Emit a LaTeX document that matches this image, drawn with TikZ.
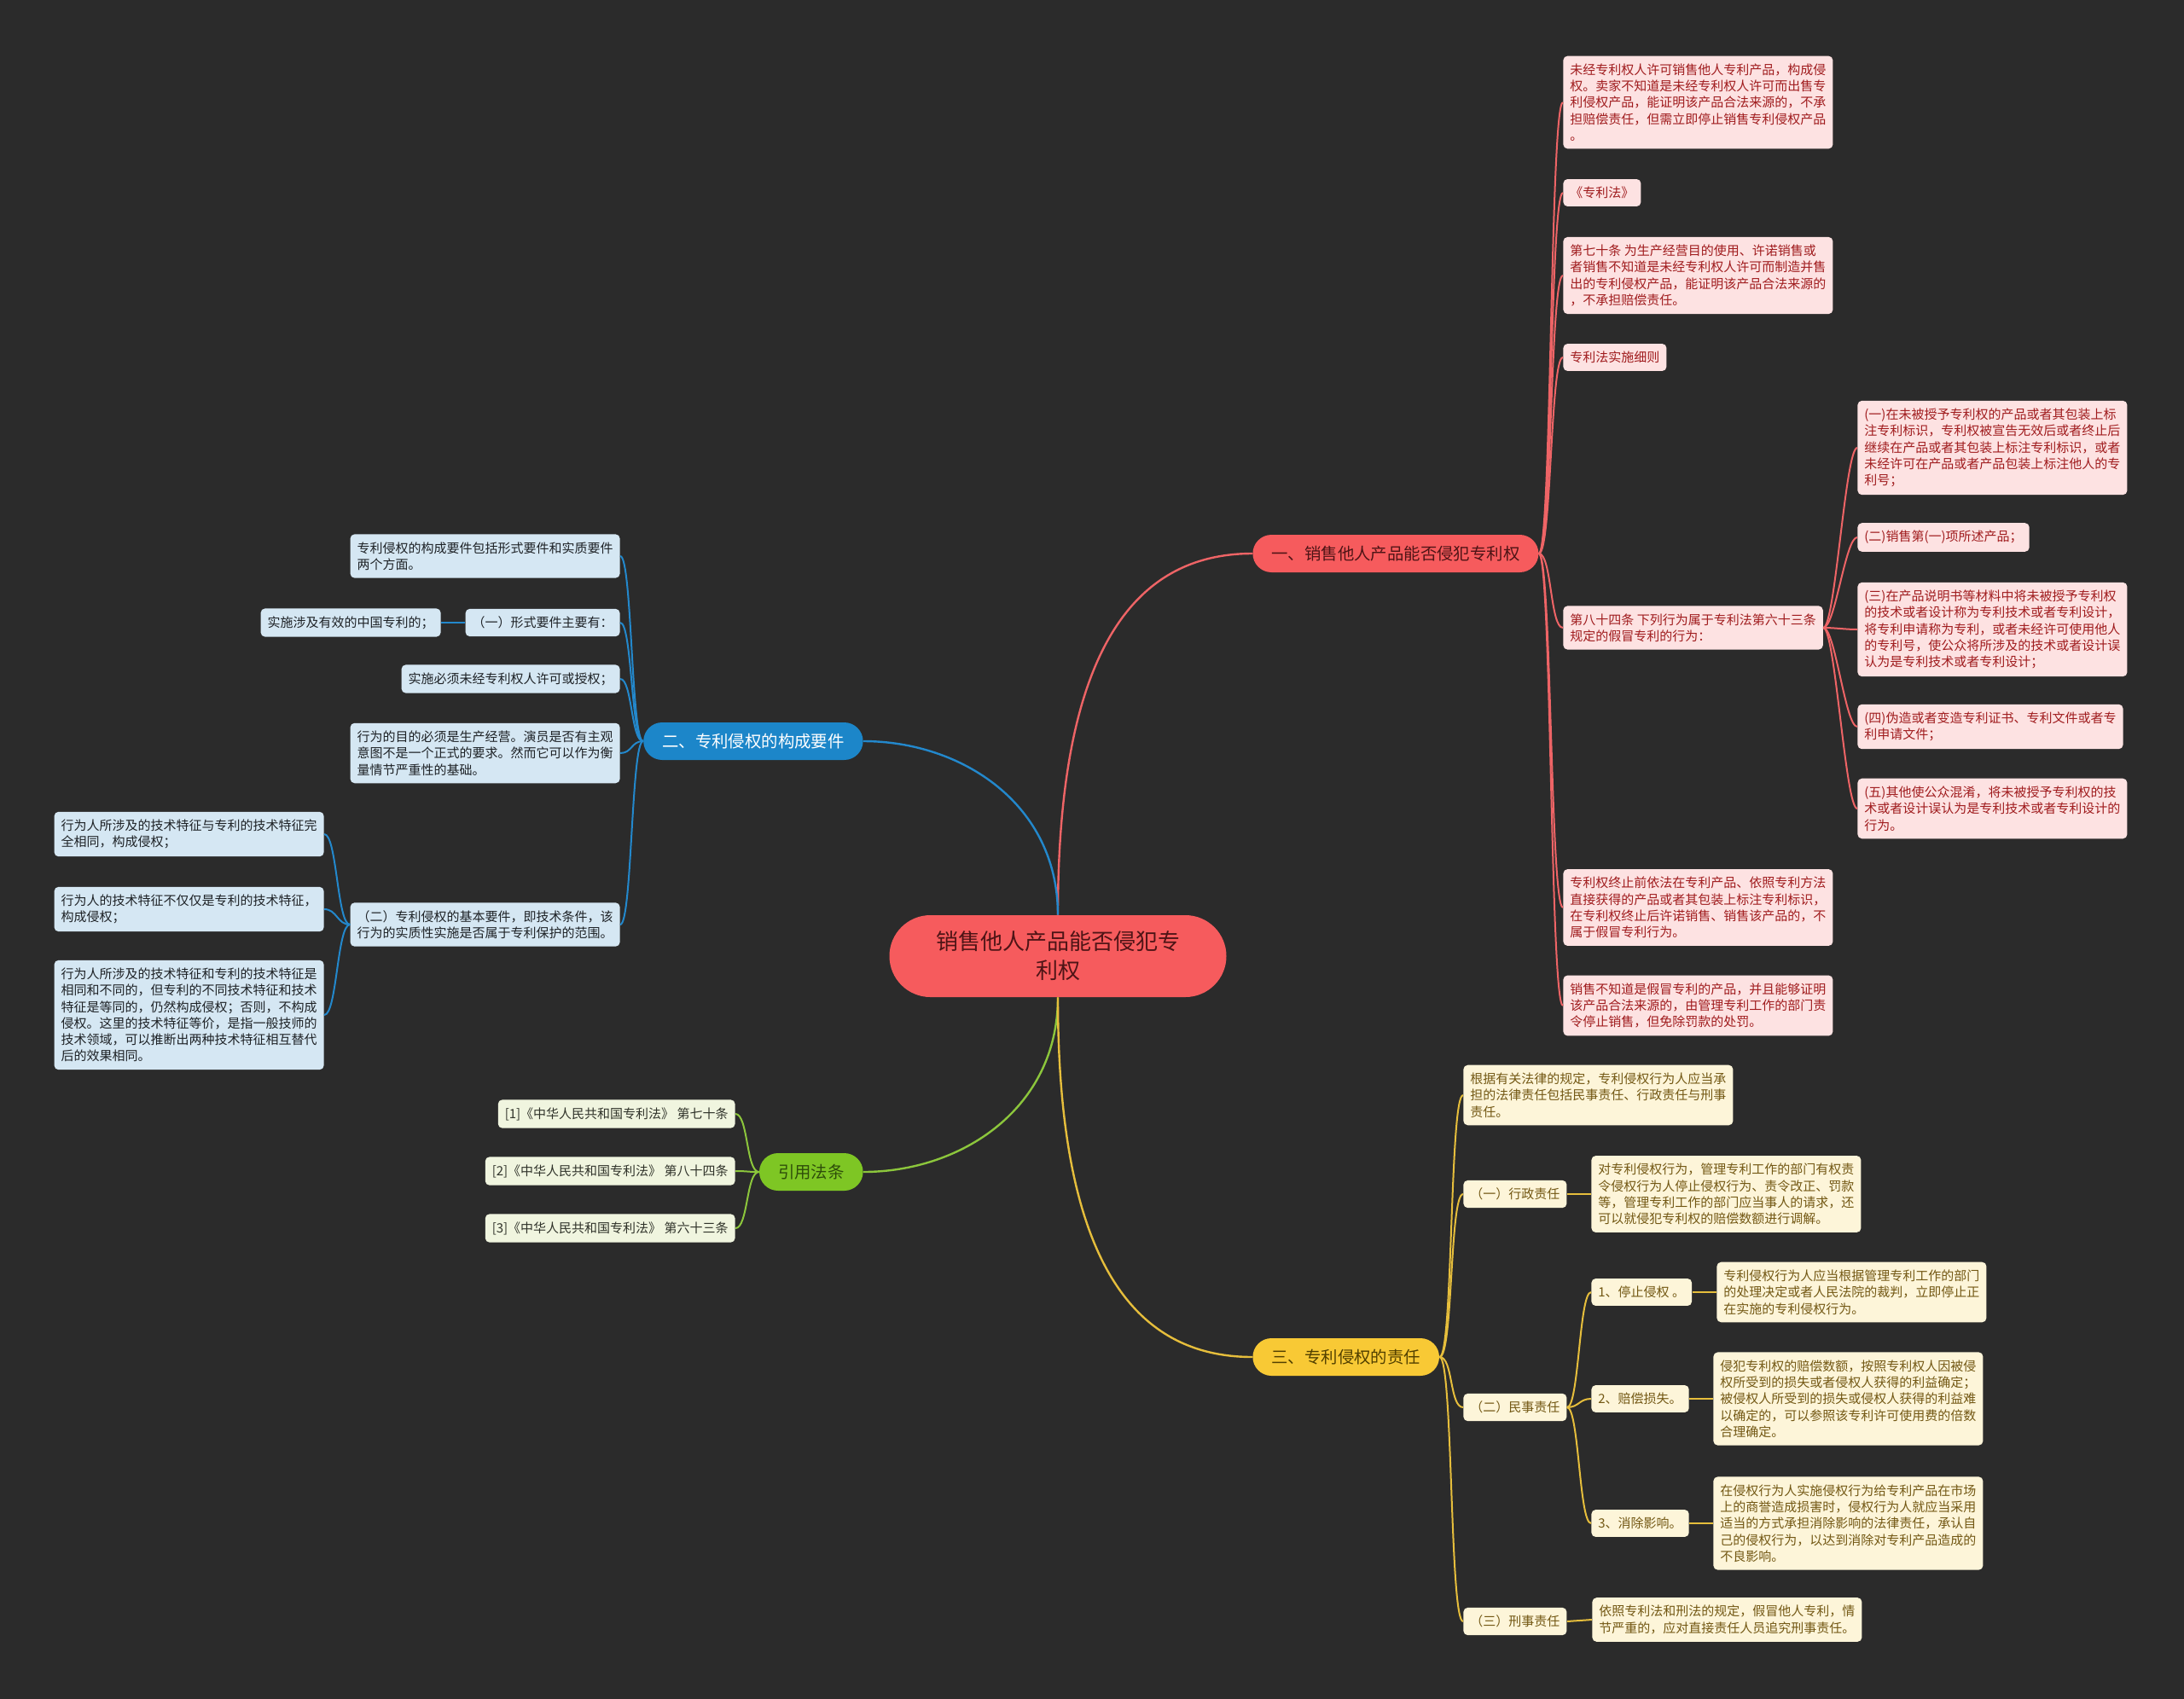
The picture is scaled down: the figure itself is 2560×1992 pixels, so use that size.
\documentclass[tikz,border=0pt]{standalone}
\usepackage{fontspec}
\setmainfont{Noto Sans CJK SC}

\definecolor{bgcol}{HTML}{2B2B2B}
\definecolor{redfill}{HTML}{F65B5D}
\definecolor{redtext}{HTML}{4E1416}
\definecolor{redline}{HTML}{EE6466}
\definecolor{redleaffill}{HTML}{FDE2E2}
\definecolor{redleaftext}{HTML}{A01C1E}
\definecolor{bluefill}{HTML}{1C86C9}
\definecolor{blueline}{HTML}{2388CC}
\definecolor{blueleaffill}{HTML}{D5E7F3}
\definecolor{blueleaftext}{HTML}{1E2226}
\definecolor{greenfill}{HTML}{7EC624}
\definecolor{greentext}{HTML}{2E4D0A}
\definecolor{greenline}{HTML}{8CC63C}
\definecolor{greenleaffill}{HTML}{F0F5DF}
\definecolor{greenleaftext}{HTML}{30332A}
\definecolor{yellowfill}{HTML}{F8C935}
\definecolor{yellowtext}{HTML}{524000}
\definecolor{yellowline}{HTML}{E6BE3C}
\definecolor{yellowleaffill}{HTML}{FDF5D9}
\definecolor{yellowleaftext}{HTML}{735814}

\tikzset{
  root/.style={fill=redfill, text=redtext, rounded corners=24pt, minimum width=197.5pt,
    minimum height=48pt, align=center, font=\fontsize{13}{17}\selectfont},
  mainbox/.style={rounded corners=11pt, minimum height=22pt, inner xsep=11pt, inner ysep=2pt,
    font=\fontsize{9.7}{12}\selectfont},
  leaf/.style={rounded corners=2.5pt, inner xsep=4pt, inner ysep=4.5pt, align=left,
    font=\fontsize{7.5}{9.65}\selectfont},
  redleaf/.style={leaf, fill=redleaffill, text=redleaftext},
  blueleaf/.style={leaf, fill=blueleaffill, text=blueleaftext},
  greenleaf/.style={leaf, fill=greenleaffill, text=greenleaftext},
  yellowleaf/.style={leaf, fill=yellowleaffill, text=yellowleaftext},
  link/.style={line width=1pt},
  mainlink/.style={line width=1.2pt},
}

\begin{document}
\begin{tikzpicture}[x=0.5pt, y=-0.5pt]

% fond
\fill[bgcol] (0,0) rectangle (2560,1992);

% le nœud central
\node[root] (root) at (1240,1121) {销售他人产品能否侵犯专\\利权};

% les branches principales
\node[mainbox, fill=redfill, text=redtext, anchor=west] (b1) at (1468,649) {一、销售他人产品能否侵犯专利权};
\node[mainbox, fill=bluefill, text=white, anchor=east] (b2) at (1012,869) {二、专利侵权的构成要件};
\node[mainbox, fill=greenfill, text=greentext, anchor=east] (b3) at (1012,1374) {引用法条};
\node[mainbox, fill=yellowfill, text=yellowtext, anchor=west] (b4) at (1468,1591) {三、专利侵权的责任};

% branche 1
\node[redleaf, anchor=west] (r1) at (1832,120) {未经专利权人许可销售他人专利产品，构成侵\\权。卖家不知道是未经专利权人许可而出售专\\利侵权产品，能证明该产品合法来源的，不承\\担赔偿责任，但需立即停止销售专利侵权产品\\。};
\node[redleaf, anchor=west] (r2) at (1832,226) {《专利法》};
\node[redleaf, anchor=west] (r3) at (1832,323) {第七十条 为生产经营目的使用、许诺销售或\\者销售不知道是未经专利权人许可而制造并售\\出的专利侵权产品，能证明该产品合法来源的\\，不承担赔偿责任。};
\node[redleaf, anchor=west] (r4) at (1832,419) {专利法实施细则};
\node[redleaf, anchor=west] (r5) at (1832,736) {第八十四条 下列行为属于专利法第六十三条\\规定的假冒专利的行为：};
\node[redleaf, anchor=west] (r6) at (1832,1064) {专利权终止前依法在专利产品、依照专利方法\\直接获得的产品或者其包装上标注专利标识，\\在专利权终止后许诺销售、销售该产品的，不\\属于假冒专利行为。};
\node[redleaf, anchor=west] (r7) at (1832,1179) {销售不知道是假冒专利的产品，并且能够证明\\该产品合法来源的，由管理专利工作的部门责\\令停止销售，但免除罚款的处罚。};

\node[redleaf, anchor=west] (r51) at (2177,525) {(一)在未被授予专利权的产品或者其包装上标\\注专利标识，专利权被宣告无效后或者终止后\\继续在产品或者其包装上标注专利标识，或者\\未经许可在产品或者产品包装上标注他人的专\\利号；};
\node[redleaf, anchor=west] (r52) at (2177,630) {(二)销售第(一)项所述产品；};
\node[redleaf, anchor=west] (r53) at (2177,738) {(三)在产品说明书等材料中将未被授予专利权\\的技术或者设计称为专利技术或者专利设计，\\将专利申请称为专利，或者未经许可使用他人\\的专利号，使公众将所涉及的技术或者设计误\\认为是专利技术或者专利设计；};
\node[redleaf, anchor=west] (r54) at (2177,852) {(四)伪造或者变造专利证书、专利文件或者专\\利申请文件；};
\node[redleaf, anchor=west] (r55) at (2177,948) {(五)其他使公众混淆，将未被授予专利权的技\\术或者设计误认为是专利技术或者专利设计的\\行为。};

% branche 2
\node[blueleaf, anchor=east] (s1) at (727,652) {专利侵权的构成要件包括形式要件和实质要件\\两个方面。};
\node[blueleaf, anchor=east] (s2) at (727,730) {（一）形式要件主要有：};
\node[blueleaf, anchor=east] (s21) at (517,730) {实施涉及有效的中国专利的；};
\node[blueleaf, anchor=east] (s3) at (727,796) {实施必须未经专利权人许可或授权；};
\node[blueleaf, anchor=east] (s4) at (727,883) {行为的目的必须是生产经营。演员是否有主观\\意图不是一个正式的要求。然而它可以作为衡\\量情节严重性的基础。};
\node[blueleaf, anchor=east] (s5) at (727,1084) {（二）专利侵权的基本要件，即技术条件，该\\行为的实质性实施是否属于专利保护的范围。};
\node[blueleaf, anchor=east] (s51) at (380,978) {行为人所涉及的技术特征与专利的技术特征完\\全相同，构成侵权；};
\node[blueleaf, anchor=east] (s52) at (380,1066) {行为人的技术特征不仅仅是专利的技术特征，\\构成侵权；};
\node[blueleaf, anchor=east] (s53) at (380,1190) {行为人所涉及的技术特征和专利的技术特征是\\相同和不同的，但专利的不同技术特征和技术\\特征是等同的，仍然构成侵权；否则，不构成\\侵权。这里的技术特征等价，是指一般技师的\\技术领域，可以推断出两种技术特征相互替代\\后的效果相同。};

% branche 3
\node[greenleaf, anchor=east] (g1) at (862,1306) {[1]《中华人民共和国专利法》 第七十条};
\node[greenleaf, anchor=east] (g2) at (862,1373) {[2]《中华人民共和国专利法》 第八十四条};
\node[greenleaf, anchor=east] (g3) at (862,1440) {[3]《中华人民共和国专利法》 第六十三条};

% branche 4
\node[yellowleaf, anchor=west] (y1) at (1715,1284) {根据有关法律的规定，专利侵权行为人应当承\\担的法律责任包括民事责任、行政责任与刑事\\责任。};
\node[yellowleaf, anchor=west] (y2) at (1715,1400) {（一）行政责任};
\node[yellowleaf, anchor=west] (y21) at (1865,1400) {对专利侵权行为，管理专利工作的部门有权责\\令侵权行为人停止侵权行为、责令改正、罚款\\等，管理专利工作的部门应当事人的请求，还\\可以就侵犯专利权的赔偿数额进行调解。};
\node[yellowleaf, anchor=west] (y3) at (1715,1650) {（二）民事责任};
\node[yellowleaf, anchor=west] (y31) at (1865,1515) {1、停止侵权 。};
\node[yellowleaf, anchor=west] (y311) at (2012,1515) {专利侵权行为人应当根据管理专利工作的部门\\的处理决定或者人民法院的裁判，立即停止正\\在实施的专利侵权行为。};
\node[yellowleaf, anchor=west] (y32) at (1865,1640) {2、赔偿损失。};
\node[yellowleaf, anchor=west] (y321) at (2008,1640) {侵犯专利权的赔偿数额，按照专利权人因被侵\\权所受到的损失或者侵权人获得的利益确定；\\被侵权人所受到的损失或侵权人获得的利益难\\以确定的，可以参照该专利许可使用费的倍数\\合理确定。};
\node[yellowleaf, anchor=west] (y33) at (1865,1786) {3、消除影响。};
\node[yellowleaf, anchor=west] (y331) at (2008,1786) {在侵权行为人实施侵权行为给专利产品在市场\\上的商誉造成损害时，侵权行为人就应当采用\\适当的方式承担消除影响的法律责任，承认自\\己的侵权行为，以达到消除对专利产品造成的\\不良影响。};
\node[yellowleaf, anchor=west] (y4) at (1715,1901) {（三）刑事责任};
\node[yellowleaf, anchor=west] (y41) at (1866,1899) {依照专利法和刑法的规定，假冒他人专利，情\\节严重的，应对直接责任人员追究刑事责任。};

% les connexions principales
\draw[mainlink, redline] (root.north) .. controls +(0,-290) and +(-150,0) .. (b1.west);
\draw[mainlink, blueline] (root.north) .. controls +(0,-130) and +(115,0) .. (b2.east);
\draw[mainlink, greenline] (root.south) .. controls +(0,130) and +(115,0) .. (b3.east);
\draw[mainlink, yellowline] (root.south) .. controls +(0,290) and +(-150,0) .. (b4.west);

% les connexions des feuilles
\foreach \n in {r1,r2,r3,r4,r5,r6,r7}
\draw[link, redline] (b1.east) .. controls +(15,0) and +(-15,0) .. (\n.west);
\foreach \n in {r51,r52,r53,r54,r55}
\draw[link, redline] (r5.east) .. controls +(14,0) and +(-14,0) .. (\n.west);

\foreach \n in {s1,s2,s3,s4,s5}
\draw[link, blueline] (b2.west) .. controls +(-14,0) and +(14,0) .. (\n.east);
\foreach \n in {s51,s52,s53}
\draw[link, blueline] (s5.west) .. controls +(-15,0) and +(15,0) .. (\n.east);
\draw[link, blueline] (s2.west) -- (s21.east);

\foreach \n in {g1,g2,g3}
\draw[link, greenline] (b3.west) .. controls +(-15,0) and +(15,0) .. (\n.east);

\foreach \n in {y1,y2,y3,y4}
\draw[link, yellowline] (b4.east) .. controls +(16,0) and +(-16,0) .. (\n.west);
\foreach \n in {y31,y32,y33}
\draw[link, yellowline] (y3.east) .. controls +(14,0) and +(-14,0) .. (\n.west);
\foreach \a/\b in {y2/y21,y31/y311,y32/y321,y33/y331,y4/y41}
\draw[link, yellowline] (\a.east) -- (\b.west);

\end{tikzpicture}
\end{document}
